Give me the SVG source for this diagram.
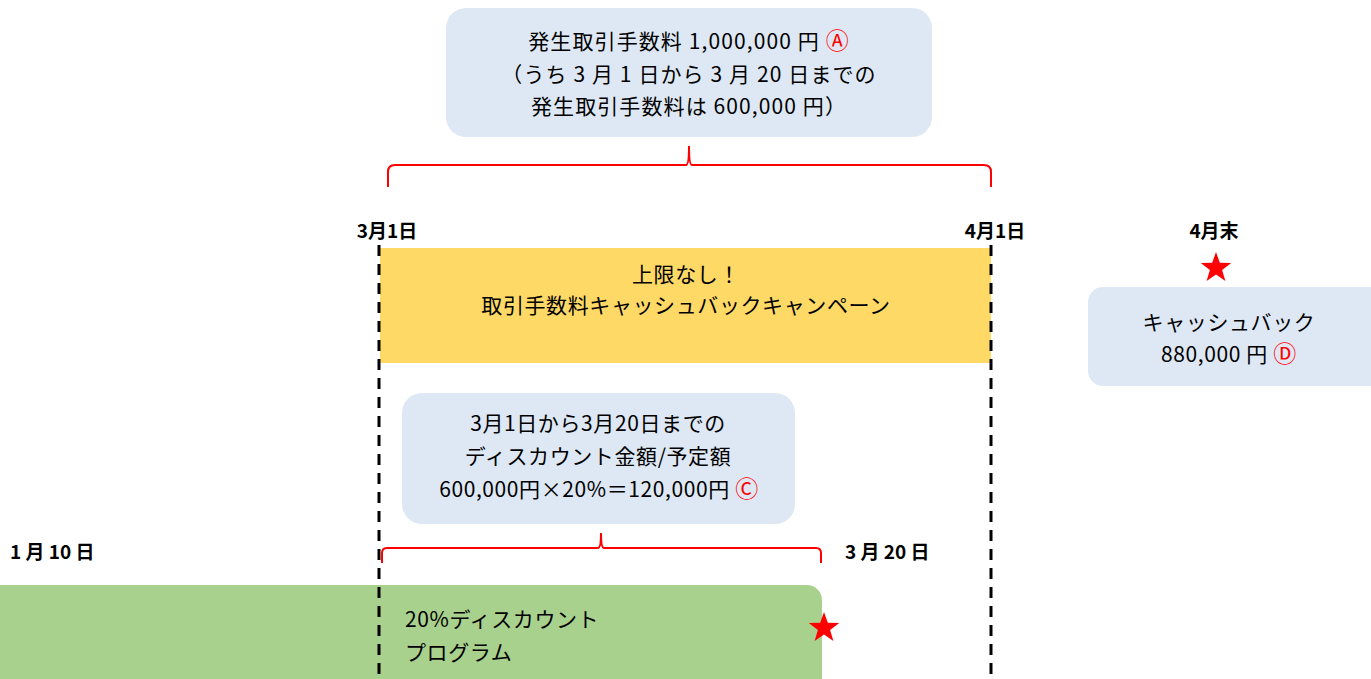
<svg xmlns="http://www.w3.org/2000/svg" width="1371" height="679" viewBox="0 0 1371 679">
<style>
.t{font-family:"Noto Sans CJK JP","Liberation Sans",sans-serif;font-size:21px;fill:#000;letter-spacing:0.6px}
.w{letter-spacing:1.1px}
.b{font-family:"Noto Sans CJK JP","Liberation Sans",sans-serif;font-size:19px;font-weight:bold;fill:#000}
.r{fill:#FF0000;font-size:23px}
.box{fill:#DEE8F4}
.dash{stroke:#000;stroke-width:3;stroke-dasharray:11 8;fill:none}
.brace{stroke:#FF0000;stroke-width:2;fill:none}
.star{fill:#FF0000}
</style>
<defs>
<path id="star" d="M0,-16 L3.8,-5.2 L15.2,-4.9 L6.1,2 L9.4,12.9 L0,6.5 L-9.4,12.9 L-6.1,2 L-15.2,-4.9 L-3.8,-5.2 Z"/>
</defs>
<rect width="1371" height="679" fill="#fff"/>
<g id="green">
<rect x="-20" y="585" width="842" height="120" rx="15" fill="#A9D18E"/>
<text class="t" x="405" y="627">20%ディスカウント</text>
<text class="t" x="405" y="660">プログラム</text>
</g>
<g id="yellow">
<rect x="380" y="248" width="611" height="115" fill="#FFD966"/>
<text class="t" x="686" y="282" text-anchor="middle">上限なし！</text>
<text class="t" x="686" y="313" text-anchor="middle">取引手数料キャッシュバックキャンペーン</text>
</g>
<g id="fee">
<rect class="box" x="446" y="8" width="486" height="129" rx="20"/>
<text class="t w" x="689" y="49" text-anchor="middle">発生取引手数料 1,000,000 円 <tspan class="r">Ⓐ</tspan></text>
<text class="t w" x="689" y="82" text-anchor="middle">（うち 3 月 1 日から 3 月 20 日までの</text>
<text class="t w" x="689" y="114" text-anchor="middle">発生取引手数料は 600,000 円）</text>
</g>
<g id="discount">
<rect class="box" x="402" y="393" width="393" height="131" rx="20"/>
<text class="t" x="598" y="431" text-anchor="middle">3月1日から3月20日までの</text>
<text class="t" x="598" y="464" text-anchor="middle">ディスカウント金額/予定額</text>
<text class="t" x="599" y="497" text-anchor="middle">600,000円×20%＝120,000円 <tspan class="r">Ⓒ</tspan></text>
</g>
<g id="cashback">
<rect class="box" x="1088" y="287" width="300" height="99" rx="15"/>
<text class="t" x="1229" y="330" text-anchor="middle">キャッシュバック</text>
<text class="t" x="1229" y="362" text-anchor="middle">880,000 円 <tspan class="r">Ⓓ</tspan></text>
</g>
<g id="labels">
<text class="b" x="387" y="238" text-anchor="middle">3月1日</text>
<text class="b" x="995" y="238" text-anchor="middle">4月1日</text>
<text class="b" x="1214" y="238" text-anchor="middle">4月末</text>
<text class="b" x="10" y="559">1 月 10 日</text>
<text class="b" x="845" y="559">3 月 20 日</text>
</g>
<g id="connectors">
<line class="dash" x1="379" y1="245" x2="379" y2="679"/>
<line class="dash" x1="991" y1="245" x2="991" y2="679"/>
<path class="brace" d="M388,187 L388,172 Q388,165 395,165 L686,165 Q689,165 689,146 Q689,165 692,165 L984,165 Q991,165 991,172 L991,187"/>
<path class="brace" d="M382,563 L382,553 Q382,548 387,548 L598,548 Q601,548 601,533 Q601,548 604,548 L816,548 Q821,548 821,553 L821,563"/>
<use href="#star" class="star" x="1216" y="268"/>
<use href="#star" class="star" x="824" y="628"/>
</g>
</svg>
